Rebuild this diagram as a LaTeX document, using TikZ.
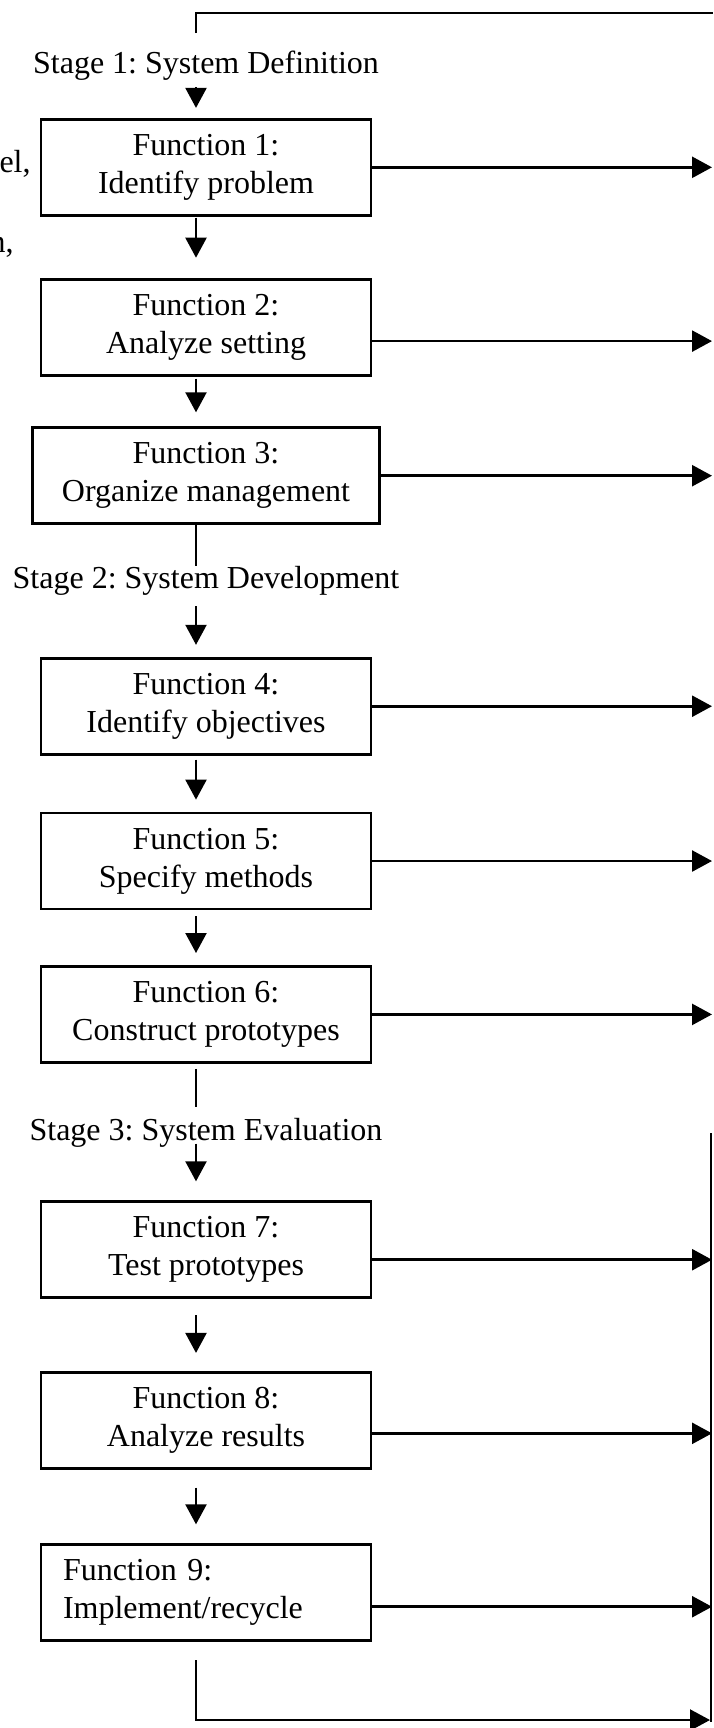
\documentclass[tikz,border=0pt]{standalone}
\usepackage{fontspec}
\setmainfont{Liberation Serif}
\usetikzlibrary{arrows.meta, positioning}
\frenchspacing

\begin{document}
\begin{tikzpicture}[
    >={Triangle[width=10.5pt,length=10pt]},
    fbox/.style={draw, line width=1.4pt, minimum width=165pt,
                 minimum height=48pt, inner xsep=14.8pt, align=center,
                 font=\fontsize{16pt}{19pt}\selectfont},
    lbox/.style={fbox, text width=143pt, inner xsep=11pt, align=left},
    stage/.style={inner sep=0pt, font=\fontsize{16pt}{19pt}\selectfont},
    flow/.style={->, line width=1.1pt},
    link/.style={line width=1.1pt},
    feed/.style={->, line width=1.3pt}
  ]
  \useasboundingbox (0,0) rectangle (356.5pt,-864pt);
  \coordinate (sp) at (98pt,0);
  \coordinate (rr) at (356pt,0);
  \coordinate (ltop) at (356.5pt,-6.5pt);
  \coordinate (bot) at (355pt,-860pt);
  \coordinate (rtop) at (355.5pt,-566.5pt);
  \coordinate (rbot) at (355.5pt,-861pt);

  \node[stage, anchor=base] (s1) at (103pt,-37pt) {Stage 1: System Definition};
  \node[fbox, below=18.3pt of s1] (f1) {Function 1:\\Identify problem};
  \node[fbox, below=30.5pt of f1] (f2) {Function 2:\\Analyze setting};
  \node[fbox, below=24.9pt of f2] (f3) {Function 3:\\Organize management};
  \node[stage, below=20.5pt of f3] (s2) {Stage 2: System Development};
  \node[fbox, below=30.4pt of s2] (f4) {Function 4:\\Identify objectives};
  \node[fbox, below=28pt of f4] (f5) {Function 5:\\Specify methods};
  \node[fbox, below=27.3pt of f5] (f6) {Function 6:\\Construct prototypes};
  \node[stage, below=27pt of f6] (s3) {Stage 3: System Evaluation};
  \node[fbox, below=26.3pt of s3] (f7) {Function 7:\\Test prototypes};
  \node[fbox, below=35.9pt of f7] (f8) {Function 8:\\Analyze results};
  \node[lbox, below=36.8pt of f8] (f9) {Function 9:\\Implement/recycle};

  \node[stage, anchor=base east] (cut1) at (15.5pt,-86.5pt) {el,};
  \node[stage, anchor=base east] (cut2) at (7pt,-126.5pt) {n,};

  \draw[link, shorten <=9pt] (sp |- s1.north) |- (ltop);
  \draw[flow, shorten <=3pt, shorten >=5pt] (sp |- s1.south) -- (sp |- f1.north);
  \draw[flow, shorten <=0.5pt, shorten >=10pt] (sp |- f1.south) -- (sp |- f2.north);
  \draw[flow, shorten <=1pt, shorten >=7pt] (sp |- f2.south) -- (sp |- f3.north);
  \draw[link] (sp |- f3.south) -- (sp |- s2.north);
  \draw[flow, shorten <=5pt, shorten >=6pt] (sp |- s2.south) -- (sp |- f4.north);
  \draw[flow, shorten <=2pt, shorten >=6pt] (sp |- f4.south) -- (sp |- f5.north);
  \draw[flow, shorten <=3pt, shorten >=6pt] (sp |- f5.south) -- (sp |- f6.north);
  \draw[link, shorten <=2.5pt, shorten >=5.5pt] (sp |- f6.south) -- (sp |- s3.north);
  \draw[flow, shorten <=-2pt, shorten >=9.5pt] (sp |- s3.south) -- (sp |- f7.north);
  \draw[flow, shorten <=8pt, shorten >=9pt] (sp |- f7.south) -- (sp |- f8.north);
  \draw[flow, shorten <=9pt, shorten >=9.5pt] (sp |- f8.south) -- (sp |- f9.north);
  \draw[flow, shorten <=9pt] (sp |- f9.south) |- (bot);

  \draw[feed] (f1.east) -- (f1.east -| rr);
  \draw[feed] ([yshift=-7pt]f2.east) -- ([yshift=-7pt]f2.east -| rr);
  \draw[feed] (f3.east) -- (f3.east -| rr);
  \draw[feed] (f4.east) -- (f4.east -| rr);
  \draw[feed] (f5.east) -- (f5.east -| rr);
  \draw[feed] (f6.east) -- (f6.east -| rr);
  \draw[feed] ([yshift=-5pt]f7.east) -- ([yshift=-5pt]f7.east -| rr);
  \draw[feed] ([yshift=-6.5pt]f8.east) -- ([yshift=-6.5pt]f8.east -| rr);
  \draw[feed] ([yshift=-7pt]f9.east) -- ([yshift=-7pt]f9.east -| rr);
  \draw[link] (rtop) -- (rbot);
\end{tikzpicture}
\end{document}
